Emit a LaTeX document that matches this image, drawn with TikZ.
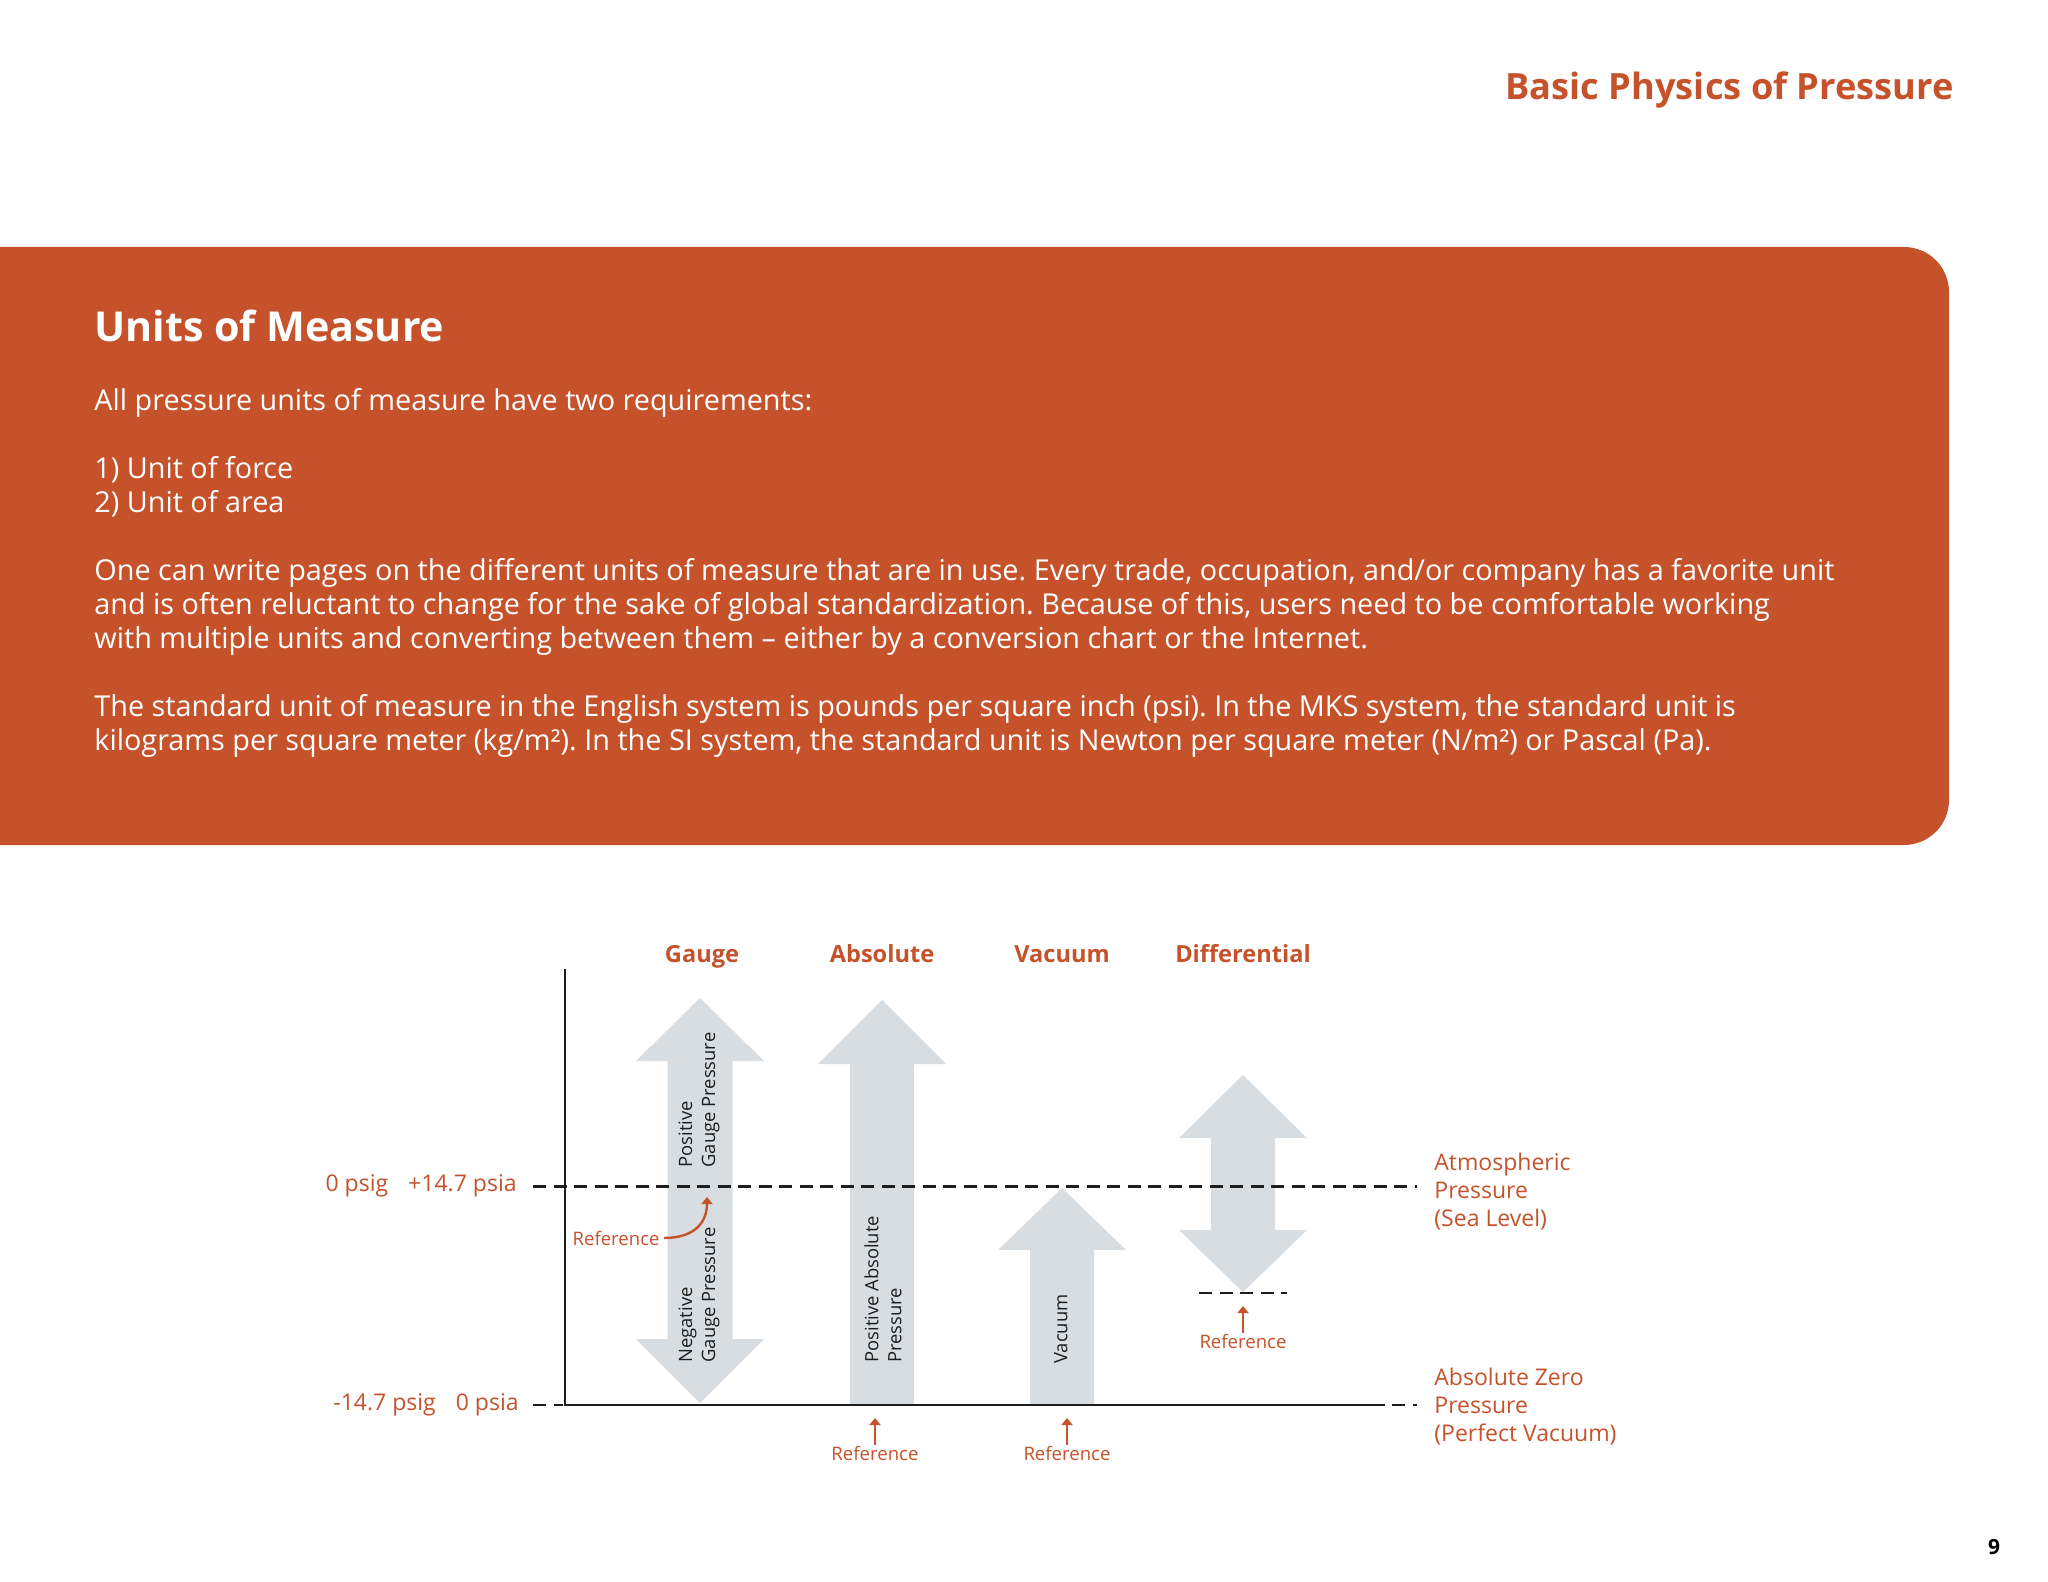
\documentclass[tikz,border=0pt]{standalone}
\usepackage{fontspec}
\setmainfont{Open Sans}
\usetikzlibrary{positioning,arrows.meta}
\definecolor{pgorange}{HTML}{C5522A}
\definecolor{pgbarfill}{HTML}{D8DDE2}
\definecolor{pgink}{HTML}{1E1E1E}
\tikzset{
  pgtitle/.style={text=pgorange, font=\fontsize{18.1}{21}\selectfont\bfseries, inner sep=0pt},
  pgboxhead/.style={text=white, font=\fontsize{20.6}{24}\selectfont\bfseries, inner sep=0pt},
  pgbody/.style={text=white, font=\fontsize{14.4}{17}\selectfont, align=left, inner sep=0pt},
  pghead/.style={text=pgorange, font=\fontsize{11.8}{14}\selectfont\bfseries, inner sep=0pt},
  pglabel/.style={text=pgorange, font=\fontsize{11.5}{13.85}\selectfont, align=left, inner sep=0pt},
  pgref/.style={text=pgorange, font=\fontsize{9.3}{11}\selectfont, inner sep=0pt},
  pginner/.style={text=pgink, font=\fontsize{9.2}{11.5}\selectfont, align=left, rotate=90, anchor=west, inner sep=0pt},
  pgbar/.style={fill=pgbarfill},
  pgaxis/.style={draw=pgink, line width=1.25pt},
  pgdash/.style={draw=pgink, line width=1.2pt, dash pattern=on 6.5pt off 3.75pt},
  pgrefarrow/.style={draw=pgorange, line width=1.2pt, -{Triangle[length=3.5pt,width=5.5pt]}},
}
\frenchspacing
\begin{document}
\begin{tikzpicture}[x=0.5pt, y=-0.5pt]
    \useasboundingbox (0,0) rectangle (2048,1582);
    % page title
    \node[pgtitle, anchor=base east] (pagetitle) at (1954,100) {Basic Physics of Pressure};
    % orange box
    \fill[pgorange] (0,247) -- (1904,247) arc[start angle=90, end angle=0, radius=22.5pt]
        -- (1949,800) arc[start angle=0, end angle=-90, radius=22.5pt] -- (0,845) -- cycle;
    \node[pgboxhead, anchor=base west] (unitshead) at (94,342) {Units of Measure};
    \node[pgbody, anchor=north west] (body) at (94,388) {All pressure units of measure have two requirements:\\[17pt]
        1) Unit of force\\
        2) Unit of area\\[17pt]
        One can write pages on the different units of measure that are in use. Every trade, occupation, and/or company has a favorite unit\\
        and is often reluctant to change for the sake of global standardization. Because of this, users need to be comfortable working\\
        with multiple units and converting between them -- either by a conversion chart or the Internet.\\[17pt]
        The standard unit of measure in the English system is pounds per square inch (psi). In the MKS system, the standard unit is\\
        kilograms per square meter (kg/m²). In the SI system, the standard unit is Newton per square meter (N/m²) or Pascal (Pa).};
    % column heads
    \node[pghead, anchor=base] (hgauge) at (702,962) {Gauge};
    \node[pghead, anchor=base] (habs) at (882,962) {Absolute};
    \node[pghead, anchor=base] (hvac) at (1062,962) {Vacuum};
    \node[pghead, anchor=base] (hdiff) at (1243,962) {Differential};
    % big arrows
    \fill[pgbar] (700,998) -- (764,1061) -- (732.5,1061) -- (732.5,1339) -- (764,1339) -- (700,1403)
        -- (636,1339) -- (667.5,1339) -- (667.5,1061) -- (636,1061) -- cycle;
    \fill[pgbar] (882,1000) -- (946,1064) -- (914,1064) -- (914,1404) -- (850,1404) -- (850,1064) -- (818,1064) -- cycle;
    \fill[pgbar] (1062,1188) -- (1126,1250) -- (1094,1250) -- (1094,1404) -- (1030,1404) -- (1030,1250) -- (998,1250) -- cycle;
    \fill[pgbar] (1243,1075) -- (1307,1138) -- (1275,1138) -- (1275,1230) -- (1307,1230) -- (1243,1292)
        -- (1179,1230) -- (1211,1230) -- (1211,1138) -- (1179,1138) -- cycle;
    % texts in the arrows
    \node[pginner] (tgaugepos) at (699,1168) {Positive\\Gauge Pressure};
    \node[pginner] (tgaugeneg) at (699,1363) {Negative\\Gauge Pressure};
    \node[pginner] (tabs) at (883,1363) {Positive Absolute\\Pressure};
    \node[pginner] (tvac) at (1061,1364) {Vacuum};
    % axis and levels
    \draw[pgaxis] (565,969) -- (565,1405) -- (1385,1405);
    \draw[pgdash] (533,1186.5) -- (1417,1186.5);
    \draw[pgdash] (533,1405) -- (563,1405);
    \draw[pgdash] (1392,1405) -- (1417,1405);
    \draw[pgdash] (1199,1293) -- (1287,1293);
    % level labels
    \node[pglabel, anchor=base east] (lzero) at (517,1191) {0 psig\hspace{10pt}+14.7 psia};
    \node[pglabel, anchor=base east] (lneg) at (519,1410) {-14.7 psig\hspace{10pt}0 psia};
    \node[pglabel, anchor=north west] (latm) at (1434,1153) {Atmospheric\\Pressure\\(Sea Level)};
    \node[pglabel, anchor=north west] (labszero) at (1434,1368) {Absolute Zero\\Pressure\\(Perfect Vacuum)};
    % reference marks
    \coordinate (tipg) at (707,1197);
    \coordinate (tipa) at (875,1418);
    \coordinate (tipv) at (1067,1418);
    \coordinate (tipd) at (1243,1306);
    \node[pgref, anchor=base east] (refg) at (660,1245) {Reference};
    \node[pgref, anchor=base] (refa) at (875,1460) {Reference};
    \node[pgref, anchor=base] (refv) at (1067,1460) {Reference};
    \node[pgref, anchor=base] (refd) at (1243,1348) {Reference};
    \draw[pgrefarrow] ([xshift=2pt]refg.east) .. controls (695,1238) and (707,1222) .. (tipg);
    \draw[pgrefarrow] (refa) -- (tipa);
    \draw[pgrefarrow] (refv) -- (tipv);
    \draw[pgrefarrow] (refd) -- (tipd);
    % page number
    \node[font=\fontsize{10.5}{12}\selectfont\bfseries, anchor=base, inner sep=0pt] (pagenum) at (1994,1554) {9};
\end{tikzpicture}
\end{document}
